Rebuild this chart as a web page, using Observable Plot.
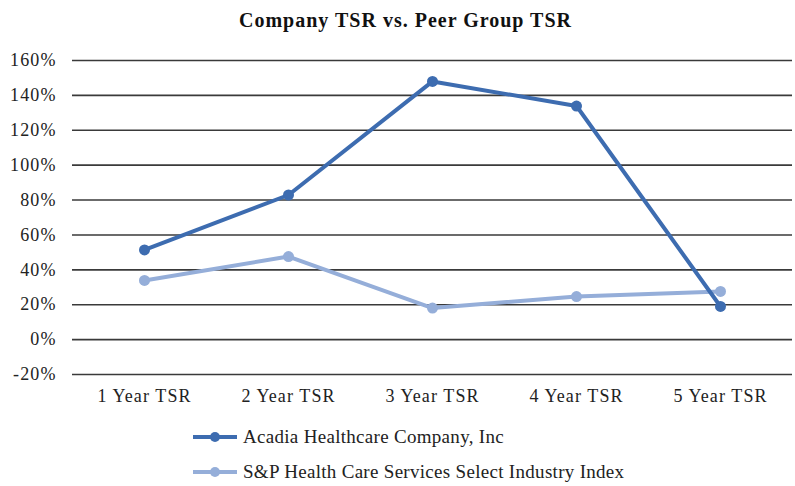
<!DOCTYPE html>
<html>
<head>
<meta charset="utf-8">
<script src="https://cdn.jsdelivr.net/npm/d3@7"></script>
<script src="https://cdn.jsdelivr.net/npm/@observablehq/plot@0.6"></script>
<style>
  html, body { margin: 0; padding: 0; background: #fff; }
  #wrap { position: relative; width: 795px; height: 486px; font-family: "Liberation Serif", "Times New Roman", serif; }
  #title { position: absolute; top: 9px; left: 8px; width: 795px; text-align: center; font-weight: bold; font-size: 20px; letter-spacing: 1px; color: #111; }
  #chart { position: absolute; top: 40px; left: 0; }
  #chart svg text { letter-spacing: 1.1px; }
  .leg { position: absolute; left: 193px; height: 20px; display: flex; align-items: center; font-size: 19px; letter-spacing: 0.3px; color: #222; }
  .leg svg { margin-right: 6px; }
</style>
</head>
<body>
<div id="wrap">
  <div id="title">Company TSR vs. Peer Group TSR</div>
  <div id="chart"></div>
  <div id="legend"></div>
</div>
<script>
const categories = ["1 Year TSR", "2 Year TSR", "3 Year TSR", "4 Year TSR", "5 Year TSR"];
const seriesNames = ["Acadia Healthcare Company, Inc", "S&P Health Care Services Select Industry Index"];
const acadiaValues = [51.4, 82.9, 148.0, 133.9, 19.0];
const peerValues = [33.9, 47.6, 18.1, 24.7, 27.6];
const yTicks = [-20, 0, 20, 40, 60, 80, 100, 120, 140, 160];
const colors = ["#3d6cb0", "#95aed9"];

const data = [];
categories.forEach((c, i) => {
  data.push({ cat: c, series: seriesNames[0], value: acadiaValues[i] });
  data.push({ cat: c, series: seriesNames[1], value: peerValues[i] });
});

const plot = Plot.plot({
  width: 795,
  height: 370,
  marginTop: 20,
  marginBottom: 36,
  marginLeft: 72,
  marginRight: 3,
  style: { fontFamily: "Liberation Serif, Times New Roman, serif", fontSize: "18px", color: "#222", background: "#fff" },
  x: { type: "point", domain: categories, padding: 0.5, label: null, tickSize: 0, tickPadding: 15 },
  y: { domain: [-20, 160], ticks: yTicks, tickFormat: d => d + "%", label: null, tickSize: 0, tickPadding: 16 },
  color: { domain: seriesNames, range: colors },
  marks: [
    Plot.ruleY(yTicks, { stroke: "#3a3a3a", strokeWidth: 1.6 }),
    Plot.line(data.filter(d => d.series === seriesNames[1]), { x: "cat", y: "value", stroke: colors[1], strokeWidth: 4 }),
    Plot.dot(data.filter(d => d.series === seriesNames[1]), { x: "cat", y: "value", fill: colors[1], r: 5.5 }),
    Plot.line(data.filter(d => d.series === seriesNames[0]), { x: "cat", y: "value", stroke: colors[0], strokeWidth: 4 }),
    Plot.dot(data.filter(d => d.series === seriesNames[0]), { x: "cat", y: "value", fill: colors[0], r: 5.5 })
  ]
});
document.getElementById("chart").appendChild(plot);

const legend = document.getElementById("legend");
const tops = [427, 462];
seriesNames.forEach((name, i) => {
  const item = document.createElement("div");
  item.className = "leg";
  item.style.top = tops[i] + "px";
  item.innerHTML = `<svg width="44" height="20"><line x1="0" y1="10" x2="44" y2="10" stroke="${colors[i]}" stroke-width="4"/><circle cx="22" cy="10" r="5" fill="${colors[i]}"/></svg>`;
  const span = document.createElement("span");
  span.textContent = name;
  item.appendChild(span);
  legend.appendChild(item);
});
</script>
</body>
</html>
